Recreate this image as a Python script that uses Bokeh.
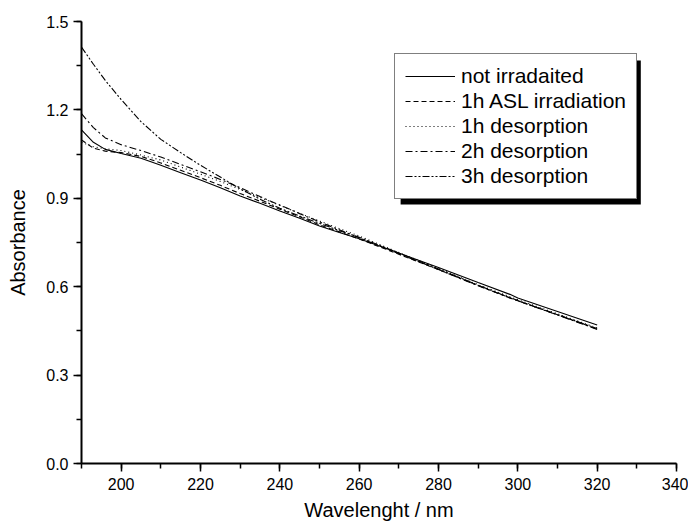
from bokeh.plotting import figure
from bokeh.models import Legend, LegendItem, BoxAnnotation, FixedTicker, NumeralTickFormatter, Range1d
from bokeh.embed import file_html
from bokeh.resources import INLINE

# wavelength grid (nm)
wl = [190, 193, 196, 200, 205, 210, 215, 220, 225, 230, 235, 240, 245, 250, 255, 260,
      270, 280, 290, 298, 300, 310, 320]

not_irr = [1.132, 1.090, 1.066, 1.052, 1.036, 1.012, 0.987, 0.962, 0.936, 0.908, 0.883, 0.857,
           0.832, 0.806, 0.784, 0.763, 0.714, 0.665, 0.614, 0.574, 0.562, 0.516, 0.470]
asl_1h = [1.098, 1.070, 1.060, 1.055, 1.042, 1.020, 0.995, 0.970, 0.944, 0.916, 0.890, 0.863,
          0.837, 0.810, 0.786, 0.762, 0.710, 0.658, 0.604, 0.562, 0.552, 0.505, 0.456]
des_1h = [1.090, 1.075, 1.068, 1.062, 1.047, 1.030, 1.006, 0.982, 0.957, 0.930, 0.903, 0.876,
          0.849, 0.823, 0.797, 0.772, 0.716, 0.662, 0.607, 0.566, 0.556, 0.508, 0.460]
des_2h = [1.187, 1.140, 1.105, 1.082, 1.062, 1.040, 1.015, 0.990, 0.964, 0.936, 0.906, 0.877,
          0.848, 0.820, 0.793, 0.766, 0.712, 0.658, 0.603, 0.562, 0.552, 0.504, 0.455]
des_3h = [1.413, 1.355, 1.300, 1.235, 1.160, 1.100, 1.055, 1.012, 0.972, 0.932, 0.897, 0.866,
          0.840, 0.815, 0.790, 0.768, 0.714, 0.660, 0.605, 0.563, 0.553, 0.505, 0.458]

series_names = ["not irradaited", "1h ASL irradiation", "1h desorption", "2h desorption", "3h desorption"]
series_vals = [not_irr, asl_1h, des_1h, des_2h, des_3h]
series_dash = ["solid", "5 3", "1 3", "7 3 2 3", "7 2 2 2 2 2"]

x_ticks = [200, 220, 240, 260, 280, 300, 320, 340]
y_ticks = [0.0, 0.3, 0.6, 0.9, 1.2, 1.5]

FONT = "Liberation Sans"

p = figure(frame_width=595, frame_height=442, min_border_left=81, min_border_right=12,
           min_border_top=21, min_border_bottom=50,
           x_range=Range1d(190, 340), y_range=Range1d(0, 1.5),
           output_backend="svg", toolbar_location=None)
p.grid.visible = False
p.outline_line_color = None
p.background_fill_color = "white"
p.border_fill_color = "white"

renderers = []
for vals, dash in zip(series_vals, series_dash):
    r = p.line(wl, vals, line_color="black", line_width=1.1, line_dash=dash)
    renderers.append(r)

for ax in (p.xaxis[0], p.yaxis[0]):
    ax.axis_line_width = 2
    ax.axis_line_color = "black"
    ax.major_tick_line_width = 1.5
    ax.minor_tick_line_width = 1.5
    ax.major_tick_out = 8
    ax.major_tick_in = 0
    ax.minor_tick_out = 5
    ax.minor_tick_in = 0
    ax.major_label_text_font = FONT
    ax.major_label_text_font_size = "16px"
    ax.major_label_text_color = "black"
    ax.axis_label_text_font = FONT
    ax.axis_label_text_font_size = "20px"
    ax.axis_label_text_font_style = "normal"
    ax.axis_label_text_color = "black"

p.xaxis.ticker = FixedTicker(ticks=x_ticks, minor_ticks=[190 + 10 * i for i in range(16)])
p.yaxis.ticker = FixedTicker(ticks=y_ticks, minor_ticks=[0.15 * i for i in range(11)])
p.yaxis.formatter = NumeralTickFormatter(format="0.0")
p.xaxis.axis_label = "Wavelenght / nm"
p.yaxis.axis_label = "Absorbance"
p.xaxis.major_label_standoff = 6
p.yaxis.major_label_standoff = 5
p.xaxis.axis_label_standoff = 6
p.yaxis.axis_label_standoff = 14

# legend shadow
shadow = BoxAnnotation(left=270.45, right=331.0, top=1.368, bottom=0.879,
                       fill_color="black", fill_alpha=1.0, line_color=None, level="overlay")
p.add_layout(shadow)

legend = Legend(items=[LegendItem(label=n, renderers=[r]) for n, r in zip(series_names, renderers)],
                location=(313, 264), orientation="vertical",
                label_text_font=FONT, label_text_font_size="21px", label_text_color="black",
                glyph_width=50, glyph_height=24, label_height=24, label_standoff=6,
                spacing=1, padding=10, margin=0,
                border_line_color="black", border_line_width=1,
                background_fill_color="white", background_fill_alpha=1.0, level="overlay")
p.add_layout(legend)

open("out.html", "w").write(file_html(p, INLINE))
